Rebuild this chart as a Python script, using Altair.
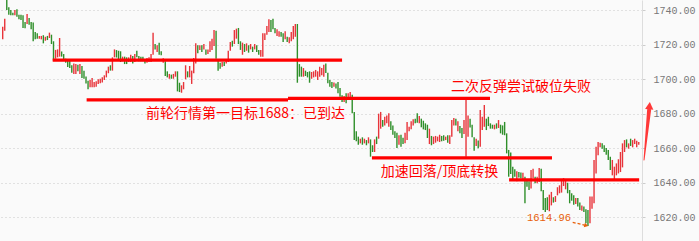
import altair as alt
import pandas as pd

# Candle bodies (open / close), one entry per session, oldest first
opens = [
    1723.0, 1728.0, 1748.0, 1741.6, 1740.0, 1738.4, 1736.9, 1740.4, 1737.3, 1737.3,
    1736.9, 1733.0, 1731.9, 1735.4, 1733.1, 1732.7, 1727.3, 1726.5, 1723.4, 1723.0,
    1725.4, 1722.2, 1725.0, 1723.8, 1725.7, 1721.9, 1711.8, 1712.6, 1713.0, 1716.0,
    1714.5, 1711.8, 1710.5, 1711.1, 1708.0, 1703.0, 1703.0, 1708.3, 1703.0, 1707.6,
    1704.9, 1701.5, 1699.1, 1695.3, 1695.3, 1695.3, 1695.6, 1697.2, 1697.6, 1698.0,
    1699.5, 1701.0, 1703.4, 1708.0, 1704.9, 1712.6, 1716.8, 1716.4, 1716.1, 1710.3,
    1713.0, 1712.6, 1709.9, 1709.9, 1713.4, 1709.9, 1716.4, 1713.4, 1713.0, 1713.0,
    1711.5, 1709.5, 1709.9, 1709.9, 1714.1, 1720.3, 1715.7, 1721.1,
    # ---
    1716.1, 1709.5, 1710.3, 1704.5, 1700.2, 1702.6, 1700.2, 1701.4, 1704.5, 1697.9,
    1692.1, 1694.1, 1699.9, 1704.5, 1701.0, 1697.2, 1703.4, 1709.1, 1719.6, 1716.9,
    1719.6, 1717.2, 1717.2, 1714.5, 1715.7, 1716.9, 1719.2, 1728.0, 1711.1, 1709.5,
    1707.2, 1709.9, 1709.1, 1709.9, 1716.4, 1722.2, 1720.3, 1723.4, 1729.6, 1721.9,
    1714.1, 1720.3, 1716.4, 1719.6, 1717.2, 1718.8, 1717.2, 1719.6, 1716.9, 1713.0,
    1713.0, 1722.6, 1725.7, 1727.3, 1734.2, 1735.0, 1729.6, 1725.0, 1724.5, 1727.3,
    1726.5, 1723.0, 1724.5, 1720.7, 1721.9, 1723.0, 1724.5, 1731.9, 1708.7, 1707.2,
    1701.4, 1704.9, 1704.1, 1704.5, 1700.2, 1701.0, 1701.4, 1699.5,
    # ---
    1701.4, 1702.2, 1701.4, 1709.0, 1703.7, 1699.5, 1698.3, 1695.5, 1697.5, 1698.3,
    1694.9, 1690.6, 1686.7, 1691.8, 1688.3, 1687.9, 1691.0, 1681.0, 1669.8, 1666.7,
    1662.8, 1666.3, 1662.8, 1664.7, 1662.8, 1665.1, 1661.7, 1657.8, 1666.7, 1665.5,
    1671.3, 1676.3, 1673.2, 1674.4, 1672.4, 1675.6, 1673.2, 1669.8, 1669.0, 1662.0,
    1667.8, 1666.0, 1662.8, 1664.7, 1669.8, 1670.9, 1673.2, 1677.1, 1680.2, 1674.4,
    1677.1, 1675.9, 1674.4, 1673.6, 1662.4, 1667.1, 1662.4, 1663.2, 1664.0, 1663.6,
    1667.1, 1667.5, 1664.7, 1667.5, 1662.4, 1666.7, 1673.2, 1677.1, 1669.8, 1672.8,
    1671.7, 1668.2, 1655.1, 1666.7, 1677.0, 1673.6, 1666.3, 1661.3, 1664.5,
    # ---
    1660.9, 1670.5, 1672.4, 1677.1, 1678.2, 1674.4, 1673.6, 1670.9, 1674.4, 1671.7,
    1673.6, 1673.2, 1675.2, 1668.6, 1659.0, 1657.5, 1649.3, 1647.8, 1640.8, 1646.2,
    1646.0, 1641.6, 1643.5, 1641.6, 1640.8, 1636.6, 1642.8, 1643.5, 1639.7, 1640.4,
    1648.1, 1635.8, 1631.2, 1631.6, 1623.5, 1626.9, 1631.6, 1628.9, 1632.7, 1633.9,
    1634.3, 1638.1, 1636.2, 1640.0, 1635.8, 1633.9, 1632.7, 1627.7, 1631.2, 1628.5,
    1623.8, 1626.2, 1624.6, 1624.2, 1616.5, 1625.0, 1628.1, 1645.4, 1655.9, 1660.5,
    1662.8, 1661.7, 1660.1, 1659.0, 1655.1, 1644.3, 1641.9, 1644.3, 1645.4, 1646.2,
    1648.9, 1657.8, 1665.1, 1659.7, 1665.5, 1660.5, 1662.4, 1660.5, 1662.0,
]
closes = [
    1730.3, 1735.0, 1740.0, 1737.3, 1736.9, 1736.9, 1740.0, 1736.1, 1734.6, 1734.2,
    1729.6, 1729.5, 1737.7, 1731.5, 1728.8, 1721.9, 1723.0, 1723.4, 1725.0, 1725.0,
    1720.7, 1724.5, 1722.6, 1726.9, 1720.3, 1710.7, 1716.9, 1717.2, 1723.8, 1713.0,
    1711.5, 1709.5, 1707.0, 1706.4, 1703.7, 1709.1, 1708.7, 1704.5, 1708.7, 1700.6,
    1700.2, 1697.5, 1694.1, 1699.5, 1700.6, 1698.3, 1698.7, 1699.9, 1700.2, 1701.0,
    1702.2, 1704.9, 1707.2, 1704.9, 1712.6, 1717.2, 1712.5, 1711.1, 1709.9, 1713.0,
    1708.7, 1708.7, 1712.6, 1714.1, 1709.1, 1714.5, 1712.6, 1710.3, 1710.3, 1710.3,
    1709.1, 1712.2, 1712.6, 1714.5, 1726.9, 1717.2, 1719.6, 1714.1,
    # ---
    1713.8, 1712.0, 1701.8, 1701.0, 1703.0, 1700.2, 1703.0, 1704.5, 1692.9, 1692.5,
    1696.4, 1698.3, 1708.0, 1701.0, 1707.6, 1704.9, 1712.2, 1720.7, 1714.9, 1719.6,
    1715.7, 1720.3, 1714.1, 1717.2, 1721.9, 1723.4, 1728.4, 1711.8, 1704.9, 1706.0,
    1709.9, 1707.6, 1711.5, 1716.4, 1721.5, 1718.8, 1728.4, 1729.2, 1720.3, 1716.9,
    1721.1, 1715.7, 1720.7, 1715.3, 1720.3, 1715.7, 1720.3, 1715.7, 1714.1, 1716.9,
    1726.5, 1726.5, 1730.7, 1734.6, 1727.3, 1728.8, 1726.5, 1728.8, 1727.7, 1724.5,
    1721.5, 1727.7, 1721.5, 1724.2, 1727.3, 1730.7, 1731.9, 1697.9, 1701.4, 1701.4,
    1706.4, 1701.8, 1701.0, 1697.9, 1704.1, 1704.5, 1705.3, 1704.5,
    # ---
    1707.2, 1706.4, 1708.3, 1703.5, 1697.6, 1695.6, 1694.9, 1698.0, 1694.5, 1691.8,
    1689.8, 1686.7, 1690.2, 1686.0, 1691.8, 1692.5, 1680.2, 1664.7, 1664.0, 1662.0,
    1665.5, 1662.0, 1665.5, 1661.7, 1666.3, 1655.1, 1657.8, 1665.1, 1662.4, 1680.0,
    1681.0, 1672.4, 1678.2, 1679.0, 1680.2, 1670.5, 1667.8, 1665.9, 1660.1, 1667.5,
    1660.9, 1662.5, 1669.0, 1675.2, 1672.4, 1675.6, 1676.7, 1674.4, 1674.8, 1678.6,
    1672.1, 1670.9, 1670.5, 1665.9, 1671.3, 1661.7, 1666.7, 1667.1, 1666.7, 1667.8,
    1664.0, 1664.3, 1666.7, 1663.2, 1667.5, 1676.3, 1677.5, 1673.2, 1675.6, 1668.6,
    1665.9, 1676.3, 1688.6, 1679.0, 1672.0, 1666.3, 1658.5, 1665.5, 1660.0,
    # ---
    1682.1, 1678.2, 1685.0, 1670.5, 1672.8, 1671.3, 1671.3, 1673.6, 1671.3, 1676.3,
    1668.6, 1667.8, 1667.5, 1657.0, 1643.5, 1645.0, 1641.6, 1643.5, 1646.6, 1643.1,
    1642.5, 1645.8, 1628.1, 1637.7, 1635.8, 1647.4, 1648.1, 1639.7, 1643.5, 1648.5,
    1635.1, 1624.2, 1623.1, 1624.2, 1633.1, 1634.7, 1628.5, 1632.3, 1637.4, 1638.5,
    1641.9, 1642.7, 1641.2, 1633.9, 1628.1, 1629.6, 1627.3, 1631.2, 1626.2, 1624.2,
    1626.9, 1623.1, 1616.5, 1614.96, 1632.0, 1632.0, 1653.2, 1660.9, 1663.6, 1663.2,
    1659.7, 1657.8, 1656.2, 1653.2, 1647.4, 1653.2, 1649.3, 1651.2, 1653.6, 1657.8,
    1662.8, 1664.7, 1660.5, 1662.8, 1661.3, 1664.7, 1665.5, 1664.3, 1663.6,
]

# Right-hand price axis
price_ticks = [1620, 1640, 1660, 1680, 1700, 1720, 1740]

# Support / resistance segments: price level, first and last session index
level_values = [1711.0, 1688.0, 1688.8, 1654.4, 1641.7]
level_start = [24.6, 41.3, 140.4, 181.7, 249.2]
level_end = [167.0, 140.4, 239.8, 270.3, 313.2]

# Commentary
notes = ["前轮行情第一目标1688：已到达", "二次反弹尝试破位失败", "加速回落/顶底转换"]
note_x = [70.5, 220.6, 186.0]
note_y = [1679.8, 1695.4, 1646.4]

# Swing low marker
low_label = "1614.96"
low_label_x = 258.0
low_label_y = 1619.6
low_arrow_x = [280.5, 287.2]
low_arrow_y = [1617.1, 1615.2]

# Upside arrow after the breakout
up_arrow_x = [315.6, 318.1]
up_arrow_y = [1653.2, 1682.1]
up_arrow_w = [1.0, 4.0]
up_head_x = [318.3]
up_head_y = [1684.6]

RED = "#e8343a"
GREEN = "#2f8f2a"
LINE_RED = "#ff0000"
ORANGE = "#e8600a"

n = len(opens)
candles = pd.DataFrame({
    "i": list(range(n)),
    "open": opens,
    "close": closes,
})
candles["dir"] = ["up" if c >= o else "down" for o, c in zip(opens, closes)]

x_scale = alt.Scale(domain=[-1.33, 314.6], nice=False, zero=False)
y_scale = alt.Scale(domain=[1606.28, 1745.79], nice=False, zero=False)
y_axis = alt.Axis(
    orient="right", values=price_ticks, format=".2f", title=None,
    labelFont="Liberation Mono", labelFontSize=10, labelColor="#777777",
    labelPadding=8, grid=True, gridColor="#c8c8c8", gridDash=[1, 3],
    domainColor="#dddddd", tickColor="#cccccc", tickSize=3,
)


def X(field):
    return alt.X(field, type="quantitative", scale=x_scale, axis=None)


def Y(field):
    return alt.Y(field, type="quantitative", scale=y_scale, axis=y_axis)


bars = alt.Chart(candles).mark_rule(strokeWidth=1.4).encode(
    x=X("i"),
    y=Y("open"),
    y2="close",
    color=alt.Color("dir:N", scale=alt.Scale(domain=["up", "down"], range=[RED, GREEN]), legend=None),
)

levels = alt.Chart(pd.DataFrame({
    "lv": level_values, "x0": level_start, "x1": level_end,
})).mark_rule(color=LINE_RED, strokeWidth=3.2).encode(
    x=X("x0"), x2="x1", y=Y("lv"),
)

text = alt.Chart(pd.DataFrame({"t": notes, "x": note_x, "y": note_y})).mark_text(
    align="left", baseline="middle", font="Noto Sans CJK SC", fontSize=14, color=LINE_RED,
).encode(x=X("x"), y=Y("y"), text="t:N")

low_text = alt.Chart(pd.DataFrame({"t": [low_label], "x": [low_label_x], "y": [low_label_y]})).mark_text(
    align="left", baseline="middle", font="Liberation Mono", fontSize=10.5, color=ORANGE,
).encode(x=X("x"), y=Y("y"), text="t:N")

low_arrow = alt.Chart(pd.DataFrame({"x": low_arrow_x, "y": low_arrow_y})).mark_line(
    color=ORANGE, strokeWidth=1.3, strokeDash=[3, 2],
).encode(x=X("x"), y=Y("y"))

low_head = alt.Chart(pd.DataFrame({"x": [low_arrow_x[1]], "y": [low_arrow_y[1]]})).mark_point(
    shape="triangle-right", filled=True, color=ORANGE, size=22, angle=14, opacity=1,
).encode(x=X("x"), y=Y("y"))

up_shaft = alt.Chart(pd.DataFrame({"x": up_arrow_x, "y": up_arrow_y, "w": up_arrow_w})).mark_trail(
    color="#ff3838",
).encode(x=X("x"), y=Y("y"), size=alt.Size("w:Q", scale=None, legend=None))

up_head = alt.Chart(pd.DataFrame({"x": up_head_x, "y": up_head_y})).mark_point(
    shape="triangle-up", filled=True, color="#ff3838", size=70, angle=5, opacity=1,
).encode(x=X("x"), y=Y("y"))

chart = alt.layer(
    bars, levels, text, low_text, low_arrow, low_head, up_shaft, up_head,
).properties(
    width=642, height=241,
    autosize=alt.AutoSizeParams(type="none"),
    padding={"left": 0, "top": 0, "right": 57, "bottom": 0},
).configure(background="#fafafa").configure_view(stroke=None)

chart.save("out.html", embed_options={"renderer": "svg", "actions": False})
